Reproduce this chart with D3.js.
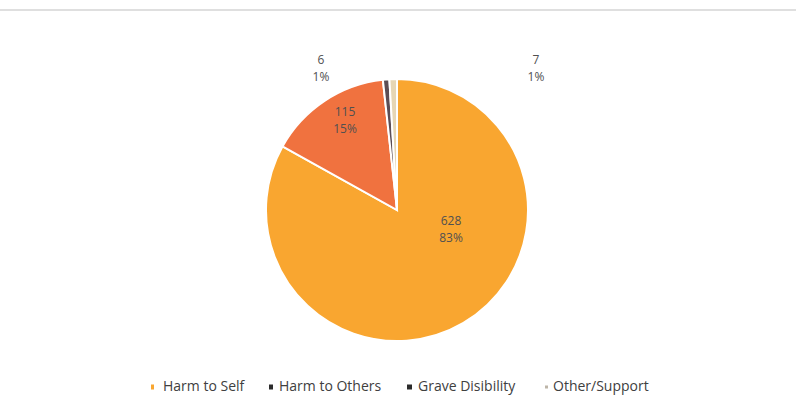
<!DOCTYPE html>
<html>
<head>
<meta charset="utf-8">
<script src="https://cdn.jsdelivr.net/npm/d3@7"></script>
<style>
  body { margin: 0; background: #fff; }
  svg { display: block; }
</style>
</head>
<body>
<svg id="svg"></svg>
<script>
// Chart data
const categories = ["Harm to Self", "Harm to Others", "Grave Disibility", "Other/Support"];
const counts = [628, 115, 6, 7];
const percentLabels = ["83%", "15%", "1%", "1%"];

// Look
const sliceColors = ["#f9a630", "#f0723f", "#5b4d55", "#e6d6b4"];
const legendColors = ["#f9a630", "#2b2b2b", "#2b2b2b", "#bdb5a8"];

const width = 796, height = 400;
const cx = 397, cy = 210, radius = 131;

const svg = d3.select("#svg").attr("width", width).attr("height", height);

// faint rule at the top of the picture
svg.append("line")
    .attr("x1", 0).attr("x2", width)
    .attr("y1", 10).attr("y2", 10)
    .attr("stroke", "#d4d4d4")
    .attr("stroke-width", 1.5);

const pie = d3.pie().sort(null).value(d => d);
const arcs = pie(counts);
const arc = d3.arc().innerRadius(0).outerRadius(radius);

const g = svg.append("g").attr("transform", `translate(${cx},${cy})`);

g.selectAll("path")
    .data(arcs)
    .enter()
    .append("path")
    .attr("d", arc)
    .attr("fill", (d, i) => sliceColors[i])
    .attr("stroke", "#fff")
    .attr("stroke-width", 2);

// where each data label sits, relative to the pie centre
const labelOffset = [[54, 20], [-52, -89], [-76, -141], [139, -141]];

arcs.forEach((d, i) => {
    const [x, y] = labelOffset[i];
    const lbl = g.append("g")
        .attr("font-family", "Open Sans, sans-serif")
        .attr("font-size", 12)
        .attr("fill", "#505050")
        .attr("text-anchor", "middle");
    lbl.append("text").attr("x", x).attr("y", y - 8)
        .attr("dominant-baseline", "middle").text(counts[i]);
    lbl.append("text").attr("x", x).attr("y", y + 9)
        .attr("dominant-baseline", "middle").text(percentLabels[i]);
});

// legend
const legendX = [151, 269, 407, 545];
const markerSize = [[3, 5], [4, 5], [5, 5], [3, 3]];
const legend = svg.append("g");
categories.forEach((c, i) => {
    const item = legend.append("g").attr("transform", `translate(${legendX[i]},387)`);
    item.append("rect")
        .attr("x", 0).attr("y", -markerSize[i][1] / 2)
        .attr("width", markerSize[i][0]).attr("height", markerSize[i][1])
        .attr("fill", legendColors[i]);
    item.append("text")
        .attr("x", i === 3 ? 8 : (i === 0 ? 12 : 10 + (i === 2 ? 1 : 0)))
        .attr("y", 0)
        .attr("dominant-baseline", "middle")
        .attr("font-family", "Open Sans, sans-serif")
        .attr("font-size", 14)
        .attr("fill", "#404040")
        .text(c);
});
</script>
</body>
</html>
